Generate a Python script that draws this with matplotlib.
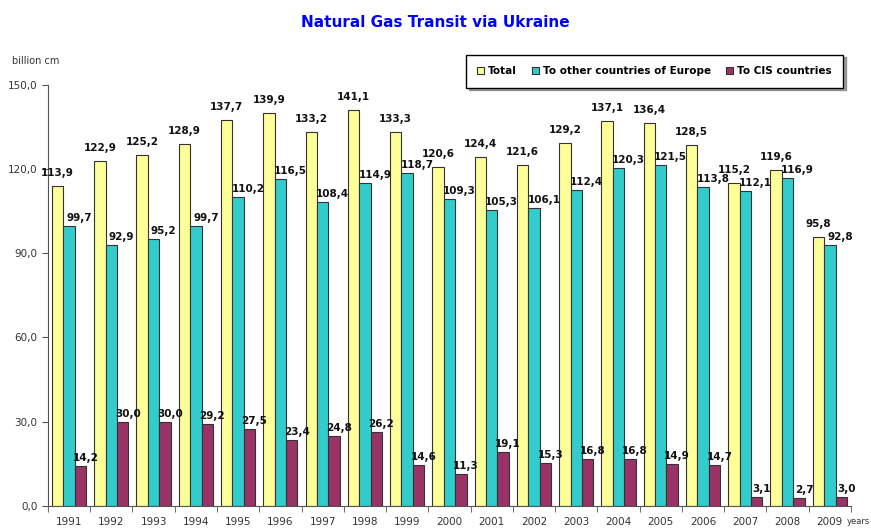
import matplotlib.pyplot as plt
import numpy as np

years = ['1991', '1992', '1993', '1994', '1995', '1996', '1997', '1998', '1999', '2000',
         '2001', '2002', '2003', '2004', '2005', '2006', '2007', '2008', '2009']
total = [113.9, 122.9, 125.2, 128.9, 137.7, 139.9, 133.2, 141.1, 133.3, 120.6,
         124.4, 121.6, 129.2, 137.1, 136.4, 128.5, 115.2, 119.6, 95.8]
europe = [99.7, 92.9, 95.2, 99.7, 110.2, 116.5, 108.4, 114.9, 118.7, 109.3,
          105.3, 106.1, 112.4, 120.3, 121.5, 113.8, 112.1, 116.9, 92.8]
cis = [14.2, 30.0, 30.0, 29.2, 27.5, 23.4, 24.8, 26.2, 14.6, 11.3,
       19.1, 15.3, 16.8, 16.8, 14.9, 14.7, 3.1, 2.7, 3.0]

# name, values, colour, label offset (px)
series = [('Total', total, '#FFFF99', (0, 8)),
          ('To other countries of Europe', europe, '#33CCCC', (10, 3)),
          ('To CIS countries', cis, '#993366', (5, 3))]

fig = plt.figure(figsize=(8.71, 5.28), dpi=100)
ax = fig.add_axes([0.055, 0.042, 0.922, 0.797])

x = np.arange(len(years))
w = 0.27
for i, (name, vals, col, off) in enumerate(series):
    pos = x - w + i * w
    ax.bar(pos, vals, w, color=col, edgecolor='#333333', lw=0.8, label=name)
    for p, v in zip(pos, vals):
        ax.annotate(('%.1f' % v).replace('.', ','), (p, v), xytext=off, textcoords='offset pixels',
                    ha='center', va='bottom', fontsize=7.5, fontweight='bold', color='#111111')

ax.set_xlim(-0.5, len(years) - 0.5)
ax.set_ylim(0, 150)
ax.set_yticks(np.arange(0, 151, 30))
ax.set_yticklabels([('%.1f' % t).replace('.', ',') for t in np.arange(0, 151, 30)], fontsize=7.5, color='#333333')
ax.set_xticks(x)
ax.set_xticklabels(years, fontsize=7.5, color='#333333')
ax.set_xticks(np.arange(-0.5, len(years), 1), minor=True)
ax.tick_params(axis='x', which='major', length=0, pad=8)
ax.tick_params(axis='x', which='minor', length=4, direction='out', color='#555555')
ax.tick_params(axis='y', length=4, color='#555555')
for s in ['top', 'right']:
    ax.spines[s].set_visible(False)
for s in ['left', 'bottom']:
    ax.spines[s].set_color('#555555')

fig.text(0.5, 0.957, 'Natural Gas Transit via Ukraine', ha='center', va='center',
         fontsize=11, fontweight='bold', color='#0000FF')
fig.text(0.014, 0.878, 'billion cm', fontsize=7, color='#333333')
fig.text(0.972, 0.008, 'years', fontsize=6, color='#333333')

leg = ax.legend(loc='upper right', bbox_to_anchor=(0.99, 1.072), ncol=3,
                prop={'weight': 'bold', 'size': 7.5}, frameon=True, fancybox=False, shadow=True,
                handlelength=0.6, handleheight=0.6, handletextpad=0.4, columnspacing=1.5,
                borderpad=1.1, borderaxespad=0)
leg.get_frame().set_edgecolor('black')

fig.savefig('out.png', dpi=100)
